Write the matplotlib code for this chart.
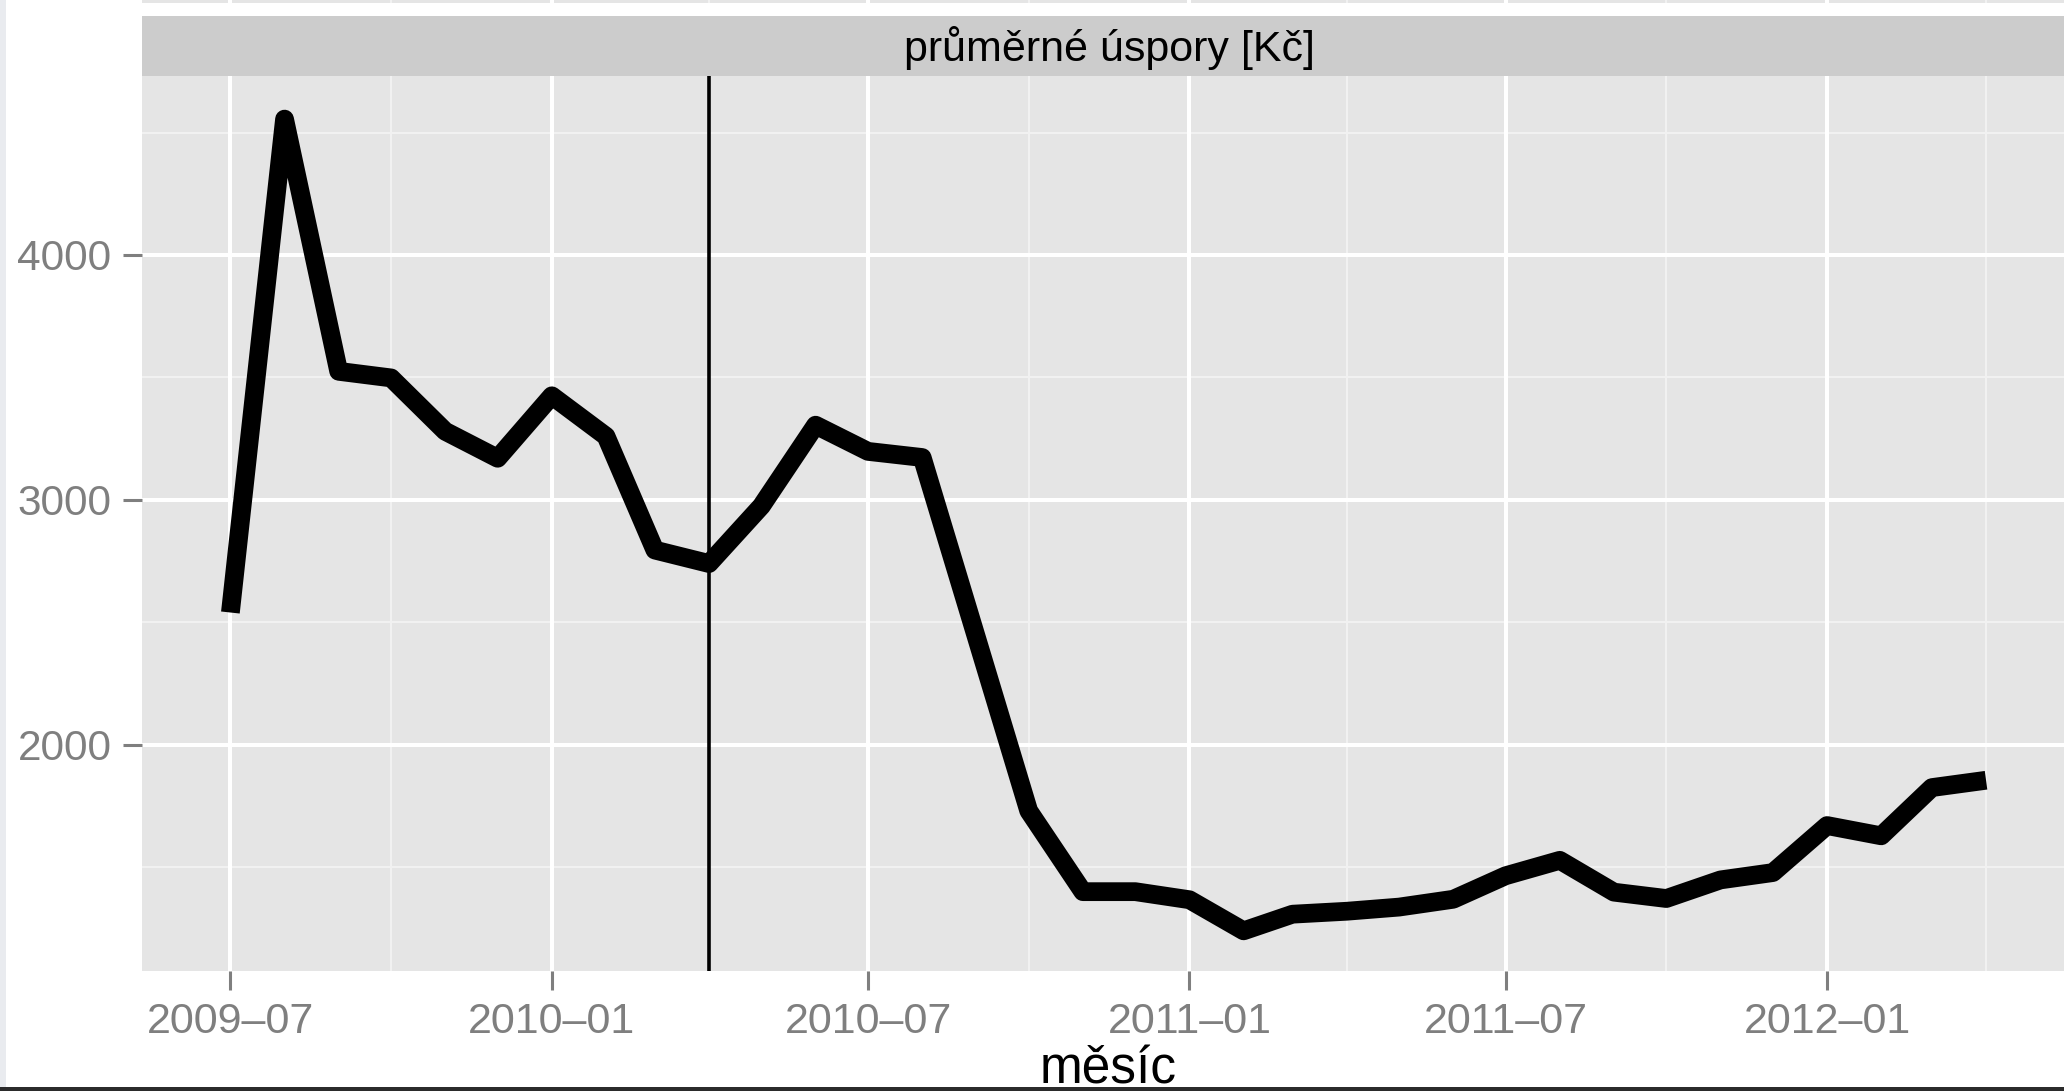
import numpy as np
import matplotlib
matplotlib.use("Agg")
from matplotlib import pyplot as plt
import matplotlib.dates as mdates
from matplotlib.patches import Rectangle

plt.rcParams["font.family"] = ["Liberation Sans", "DejaVu Sans"]

# monthly average savings
months = ["2009-07", "2009-08", "2009-09", "2009-10", "2009-11", "2009-12",
          "2010-01", "2010-02", "2010-03", "2010-04", "2010-05", "2010-06",
          "2010-07", "2010-08", "2010-09", "2010-10", "2010-11", "2010-12",
          "2011-01", "2011-02", "2011-03", "2011-04", "2011-05", "2011-06",
          "2011-07", "2011-08", "2011-09", "2011-10", "2011-11", "2011-12",
          "2012-01", "2012-02", "2012-03", "2012-04"]
savings = [2540, 4555, 3525, 3498, 3280, 3170,
           3425, 3260, 2795, 2740, 2975, 3305,
           3198, 3173, 2440, 1730, 1400, 1400,
           1367, 1240, 1308, 1320, 1337, 1369,
           1465, 1528, 1398, 1372, 1448, 1478,
           1670, 1628, 1825, 1855]

marker_date = "2010-04-01"
major_ticks = ["2009-07", "2010-01", "2010-07", "2011-01", "2011-07", "2012-01"]
minor_ticks = ["2009-10", "2010-04", "2010-10", "2011-04", "2011-10", "2012-04"]
y_major = [2000, 3000, 4000]
y_minor = [1500, 2500, 3500, 4500]
strip_label = "průměrné úspory [Kč]"
x_label = "měsíc"

W, H = 2064, 1091


def d(s):
    return mdates.date2num(np.datetime64(s if len(s) > 7 else s + "-01"))


x = [d(m) for m in months]
xlim = (d("2009-07") - 50.6, d("2012-01") + 142.5)
ylim = (1076, 4731)

fig = plt.figure(figsize=(W / 100, H / 100), dpi=100)
fig.patch.set_facecolor("white")

# decorations of the cropped screenshot
fig.add_artist(Rectangle((0, 0), 6 / W, 1, transform=fig.transFigure,
                         facecolor="#e9ebef", edgecolor="none"))
fig.add_artist(Rectangle((0, 0), 1, 4 / H, transform=fig.transFigure,
                         facecolor="#2b2b2b", edgecolor="none"))

# bottom edge of the panel above
top = fig.add_axes([142 / W, 1 - 3 / H, (2076 - 142) / W, 3 / H])
top.set_facecolor("#e5e5e5")
top.set_xlim(xlim)
for m in major_ticks:
    top.axvline(d(m), color="white", lw=2.9)
for m in minor_ticks:
    top.axvline(d(m), color="#f2f2f2", lw=1.4)
top.set_xticks([])
top.set_yticks([])
for s in top.spines.values():
    s.set_visible(False)

# facet strip
strip = fig.add_axes([142 / W, 1 - 76 / H, (2076 - 142) / W, 60 / H])
strip.set_facecolor("#cccccc")
strip.set_xticks([])
strip.set_yticks([])
for s in strip.spines.values():
    s.set_visible(False)
strip.text(0.5, 0.47, strip_label, ha="center", va="center", fontsize=31,
           color="black", transform=strip.transAxes)

ax = fig.add_axes([142 / W, 1 - 971 / H, (2076 - 142) / W, (971 - 76) / H])
ax.set_facecolor("#e5e5e5")
ax.set_xlim(xlim)
ax.set_ylim(ylim)

for m in minor_ticks:
    ax.axvline(d(m), color="#f2f2f2", lw=1.4, zorder=1)
for v in y_minor:
    ax.axhline(v, color="#f2f2f2", lw=1.4, zorder=1)
for m in major_ticks:
    ax.axvline(d(m), color="white", lw=2.9, zorder=1)
for v in y_major:
    ax.axhline(v, color="white", lw=2.9, zorder=1)

ax.plot(x, savings, color="black", lw=13.5, solid_capstyle="butt",
        solid_joinstyle="round", zorder=3)
ax.axvline(d(marker_date), color="black", lw=2.6, zorder=4)

ax.set_xticks([d(m) for m in major_ticks])
ax.set_xticklabels([m.replace("-", "–") for m in major_ticks])
ax.set_yticks(y_major)
ax.set_yticklabels([str(v) for v in y_major])
ax.tick_params(axis="both", colors="#7f7f7f", labelsize=30.5, length=14,
               width=2.2, pad=8)
ax.tick_params(axis="x", labelsize=31, pad=8)
for s in ax.spines.values():
    s.set_visible(False)

fig.text(1108 / W, 1 - 1070 / H, x_label, ha="center", va="center",
         fontsize=37, color="black")

fig.savefig("out.png", dpi=100)
